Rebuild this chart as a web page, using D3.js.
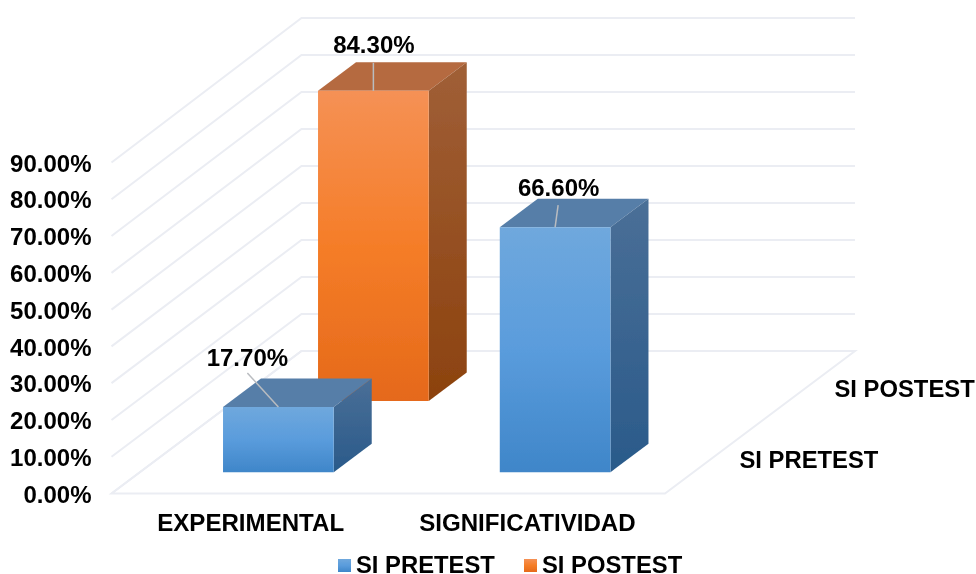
<!DOCTYPE html>
<html><head><meta charset="utf-8">
<script src="https://cdn.jsdelivr.net/npm/d3@7"></script>
<style>html,body{margin:0;padding:0;background:#fff}svg{display:block}text{font-family:"Liberation Sans",Arial,sans-serif;font-weight:700;fill:#000}</style>
</head><body><svg id="c" width="976" height="574"></svg>
<script>
const categories = ["EXPERIMENTAL", "SIGNIFICATIVIDAD"];
const seriesNames = ["SI PRETEST", "SI POSTEST"];
const pretest = [17.7, 66.6];
const postest = [84.3, null];
const yTicks = [0, 10, 20, 30, 40, 50, 60, 70, 80, 90];

// plot frame (3D projection)
const fx = 111.5, fy = 493.5, wide = 553.5, skewX = 190, skewY = 142.5, tall = 331, tallBack = 333, fs = 24;
const root = d3.select("#c");
const defs = root.append("defs");
defs.append("filter").attr("id", "soft")
  .attr("filterUnits", "userSpaceOnUse").attr("primitiveUnits", "userSpaceOnUse")
  .attr("x", 0).attr("y", 0).attr("width", 976).attr("height", 574)
  .append("feGaussianBlur").attr("stdDeviation", 0.45);
const svg = root.append("g").attr("filter", "url(#soft)");
const x = d3.scaleBand().domain(categories).range([0, wide]).paddingInner(0.6).paddingOuter(0.3);
const z = d3.scaleBand().domain(seriesNames).range([0, 1]).paddingInner(0.6).paddingOuter(0.3);
const y = d3.scaleLinear().domain([0, 90]).range([0, tall]);
const yBack = d3.scaleLinear().domain([0, 90]).range([0, tallBack]);
const P = (a, v, d, s = y) => [fx + a + d * skewX, fy - s(v) - d * skewY];
const line = d3.line();
const poly = pts => line(pts) + "Z";

function grad(id, stops) {
  const g = defs.append("linearGradient").attr("id", id).attr("x1", 0).attr("y1", 0).attr("x2", 0).attr("y2", 1);
  stops.forEach((c, i) => g.append("stop").attr("offset", i / (stops.length - 1)).attr("stop-color", c));
}
const palettes = [
  {front: ["#6fa8dd", "#5a9cdc", "#3f86c9"], side: ["#4a6f97", "#2a5a8a"], top: "#567ea8", key: "b"},
  {front: ["#f59155", "#f57d28", "#e5691a"], side: ["#a05f37", "#8c420e"], top: "#b56a40", key: "o"}
];
palettes.forEach(p => {
  grad("front-" + p.key, p.front);
  grad("side-" + p.key, p.side);
});

// gridlines: left wall + back wall
const grid = svg.append("g").attr("fill", "none").attr("stroke", "#ebedf3").attr("stroke-width", 2);
grid.selectAll("path.w").data(yTicks).join("path").attr("class", "w")
  .attr("d", t => line([P(0, t, 0), P(0, t, 1, yBack), P(wide, t, 1, yBack)]));
grid.append("path").attr("d", poly([P(0, 0, 0), P(wide, 0, 0), P(wide, 0, 1), P(0, 0, 1)]));

// bars, back series first
const rows = [
  {name: seriesNames[1], vals: postest, pal: palettes[1]},
  {name: seriesNames[0], vals: pretest, pal: palettes[0]}
];
rows.forEach(r => {
  const d0 = z(r.name), d1 = d0 + z.bandwidth();
  categories.forEach((c, i) => {
    const v = r.vals[i];
    if (v == null) return;
    const a0 = x(c), a1 = a0 + x.bandwidth();
    const g = svg.append("g").attr("class", "bar");
    g.append("path").attr("d", poly([P(a0, v, d0), P(a1, v, d0), P(a1, v, d1), P(a0, v, d1)])).attr("fill", r.pal.top);
    g.append("path").attr("d", poly([P(a1, 0, d0), P(a1, v, d0), P(a1, v, d1), P(a1, 0, d1)])).attr("fill", `url(#side-${r.pal.key})`);
    g.append("path").attr("d", poly([P(a0, 0, d0), P(a1, 0, d0), P(a1, v, d0), P(a0, v, d0)])).attr("fill", `url(#front-${r.pal.key})`);
  });
});

// data labels with leader lines (offsets from the bar's front top centre)
const labelOffsets = new Map([["SI PRETEST|EXPERIMENTAL", [-31, -34, 0, -7]], ["SI POSTEST|EXPERIMENTAL", [0, -28, 0.5, -10]], ["SI PRETEST|SIGNIFICATIVIDAD", [3, -22, 0.5, -9]]]);
rows.forEach(r => categories.forEach((c, i) => {
  const v = r.vals[i];
  if (v == null) return;
  const [px, py] = P(x(c) + x.bandwidth() / 2, v, z(r.name));
  const o = labelOffsets.get(r.name + "|" + c);
  svg.append("line").attr("x1", px).attr("y1", py).attr("x2", px + o[0]).attr("y2", py + o[1])
    .attr("stroke", "#b9bcc0").attr("stroke-width", 1.5);
  svg.append("text").attr("x", px + o[0] + o[2]).attr("y", py + o[1] + o[3]).attr("text-anchor", "middle")
    .attr("font-size", fs).text(d3.format(".2f")(v) + "%");
}));

// value axis labels
const yAxis = d3.axisLeft(d3.scaleLinear().domain([0, 90]).range([fy, fy - tall]))
  .tickValues(yTicks).tickSize(0).tickPadding(0).tickFormat(t => d3.format(".2f")(t) + "%");
const ag = svg.append("g").attr("transform", "translate(91.5,0.5)").call(yAxis);
ag.select(".domain").remove();
ag.selectAll("text").attr("font-size", fs).attr("dy", "0.34em");
ag.attr("font-family", null).attr("font-size", null);

// category labels
svg.selectAll("text.cat").data(categories).join("text").attr("class", "cat")
  .attr("x", c => fx + 0.8 + x(c) + x.bandwidth() / 2).attr("y", 531).attr("text-anchor", "middle")
  .attr("font-size", 24.1).text(c => c);

// series labels on the depth axis
svg.selectAll("text.ser").data(seriesNames).join("text").attr("class", "ser")
  .attr("x", s => P(wide, 0, z(s) + z.bandwidth() / 2)[0] + 27)
  .attr("y", s => P(wide, 0, z(s) + z.bandwidth() / 2)[1] + 10)
  .attr("font-size", 23.8).text(s => s);

// legend
const legX = d3.scaleOrdinal().domain(seriesNames).range([338, 524]);
const lg = svg.selectAll("g.lg").data(seriesNames).join("g").attr("class", "lg")
  .attr("transform", s => `translate(${legX(s)},559)`);
lg.append("rect").attr("width", 13).attr("height", 13)
  .attr("fill", (s, i) => `url(#front-${palettes[i].key})`);
lg.append("text").attr("x", 18).attr("y", 14).attr("font-size", 23.8).text(s => s);
</script></body></html>
